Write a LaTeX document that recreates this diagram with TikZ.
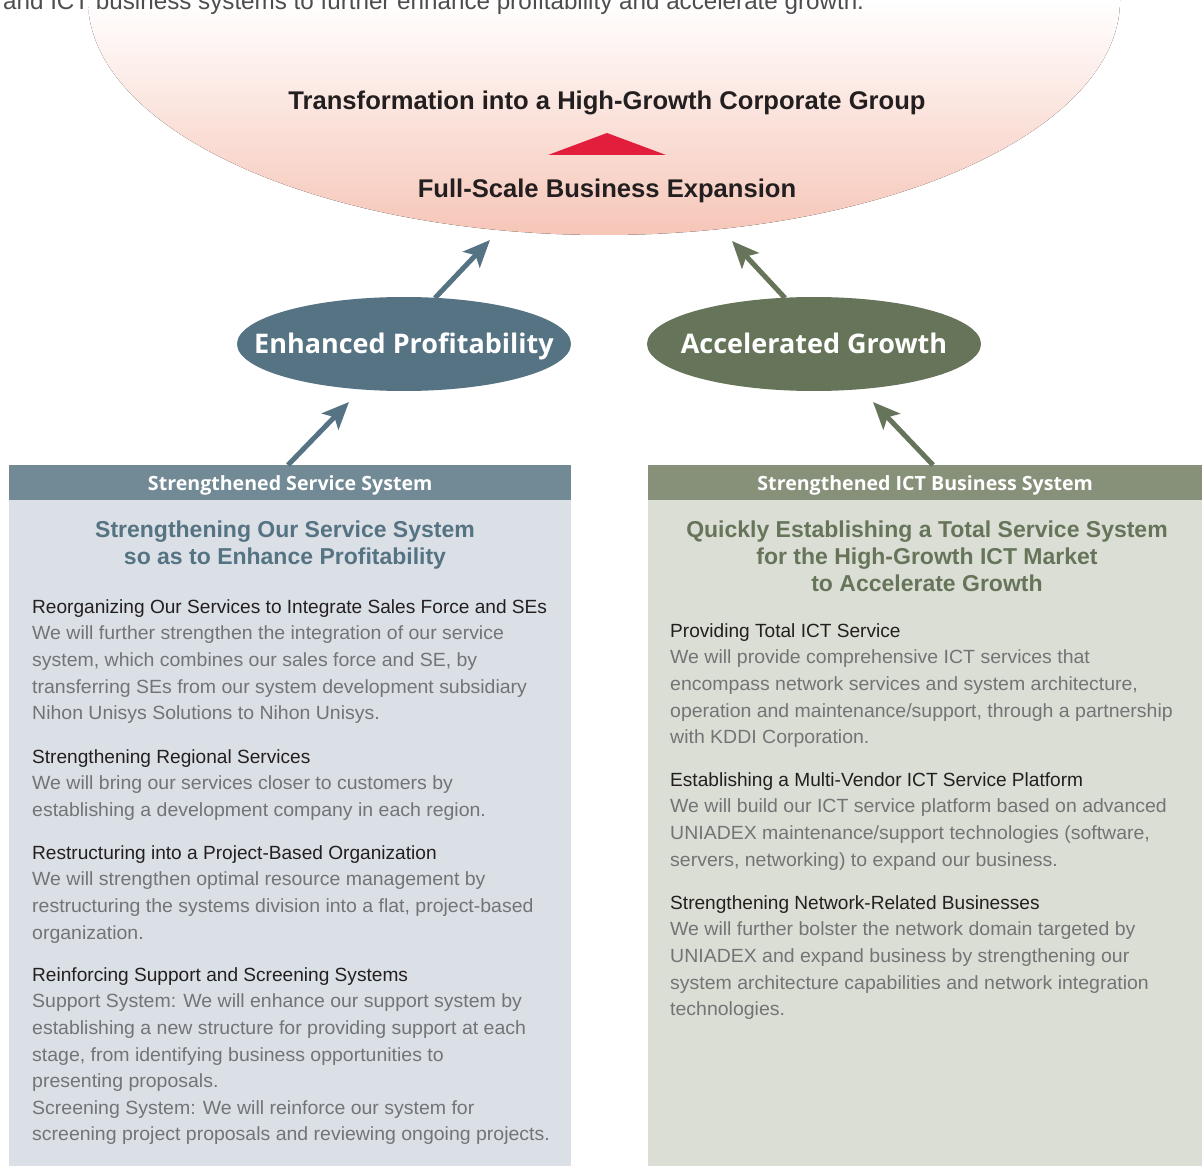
\documentclass[tikz,border=0pt]{standalone}
\usepackage{fontspec}
\setmainfont{Liberation Sans}
\newfontfamily\bodyfont[FakeStretch=1.02]{Liberation Sans}
\newfontfamily\humfont{Open Sans}
\usetikzlibrary{shapes.geometric,arrows.meta}

\definecolor{petrol}{HTML}{557383}
\definecolor{olive}{HTML}{66755A}
\definecolor{petrolhd}{HTML}{728A95}
\definecolor{olivehd}{HTML}{87917A}
\definecolor{petrolbg}{HTML}{DAE0E6}
\definecolor{olivebg}{HTML}{DBDED5}
\definecolor{ink}{HTML}{231F20}
\definecolor{bodygray}{HTML}{737476}
\definecolor{leadgray}{HTML}{4D4D4F}
\definecolor{blush}{HTML}{F6C6B8}
\definecolor{signal}{HTML}{E31D3C}

\newcommand\blockhead[1]{{\normalfont\fontsize{19.1}{26.6}\selectfont\textcolor{ink}{\rule{0pt}{15pt}#1}}}

\tikzset{
  goal/.style={font=\bfseries\fontsize{25.6}{30}\selectfont, text=ink, inner sep=0pt},
  result/.style={ellipse, minimum width=334pt, minimum height=94pt, inner xsep=-45pt, inner ysep=0pt,
    text height=19pt, text depth=0pt,
    text=white, font=\humfont\bfseries\fontsize{27}{32}\selectfont},
  bar/.style={rectangle, anchor=north west, minimum height=35pt, inner sep=0pt,
    text height=15pt, text depth=0pt,
    text=white, font=\humfont\bfseries\fontsize{19.6}{23}\selectfont},
  theme/.style={anchor=north, align=center, inner sep=0pt,
    font=\bfseries\fontsize{23}{27}\selectfont},
  blk/.style={anchor=north west, align=left, inner sep=0pt, text=bodygray,
    font=\bodyfont\fontsize{19.1}{26.6}\selectfont},
  flow/.style={line width=5pt, -{Stealth[length=27pt, width=23pt, inset=6pt]}},
}

\begin{document}
\begin{tikzpicture}[x=1pt, y=-1pt]
\useasboundingbox (0,0) rectangle (1202,1166);
\clip (0,0) rectangle (1202,1166);

% goal dome with soft pink gradient
\fill[top color=white, bottom color=blush]
  (88,0) arc[start angle=180, end angle=0, x radius=516, y radius=235] -- cycle;

% lead-in sentence running off the top edge
\node[anchor=base west, inner sep=0pt, text=leadgray, font=\fontsize{24.2}{28}\selectfont] (lead) at (3,10)
  {and ICT business systems to further enhance profitability and accelerate growth.};

% goal statements
\node[goal, anchor=base] (trans) at (607,110) {Transformation into a High-Growth Corporate Group};
\node[goal, anchor=base] (expand) at (607,198) {Full-Scale Business Expansion};
\fill[signal] (548,155) -- (607,133) -- (666,155) -- cycle;

% result ellipses
\node[result, fill=petrol] (ep) at (404,344) {Enhanced Profitability};
\node[result, fill=olive] (ag) at (814,344) {Accelerated Growth};

% column panels
\fill[petrolbg] (9,500) rectangle (571,1166);
\fill[olivebg] (648,500) rectangle (1202,1166);
\node[bar, fill=petrolhd, minimum width=562pt] (hl) at (9,465) {Strengthened Service System};
\node[bar, fill=olivehd, minimum width=554pt] (hr) at (648,465) {Strengthened ICT Business System};

% arrow end points
\coordinate (l1s) at (288,465);
\coordinate (l1e) at (349,402);
\coordinate (l2s) at (435,298);
\coordinate (l2e) at (490,240);
\coordinate (r1s) at (933,465);
\coordinate (r1e) at (873,402);
\coordinate (r2s) at (785,298);
\coordinate (r2e) at (732,241);

\draw[flow, petrol] (l1s) -- (l1e);
\draw[flow, petrol] (l2s) -- (l2e);
\draw[flow, olive] (r1s) -- (r1e);
\draw[flow, olive] (r2s) -- (r2e);

% column themes
\node[theme, text=petrol] (tl) at (285,519)
  {\rule{0pt}{18pt}Strengthening Our Service System\\so as to Enhance Profitability};
\node[theme, text=olive] (tr) at (927,519)
  {\rule{0pt}{18pt}Quickly Establishing a Total Service System\\for the High-Growth ICT Market\\to Accelerate Growth};

% left column measures
\node[blk] (lb1) at (32,598) {\blockhead{Reorganizing Our Services to Integrate Sales Force and SEs}\\
We will further strengthen the integration of our service\\
system, which combines our sales force and SE, by\\
transferring SEs from our system development subsidiary\\
Nihon Unisys Solutions to Nihon Unisys.};
\node[blk] (lb2) at (32,748) {\blockhead{Strengthening Regional Services}\\
We will bring our services closer to customers by\\
establishing a development company in each region.};
\node[blk] (lb3) at (32,844) {\blockhead{Restructuring into a Project-Based Organization}\\
We will strengthen optimal resource management by\\
restructuring the systems division into a flat, project-based\\
organization.};
\node[blk] (lb4) at (32,966) {\blockhead{Reinforcing Support and Screening Systems}\\
Support System: We will enhance our support system by\\
establishing a new structure for providing support at each\\
stage, from identifying business opportunities to\\
presenting proposals.\\
Screening System: We will reinforce our system for\\
screening project proposals and reviewing ongoing projects.};

% right column measures
\node[blk] (rb1) at (670,622) {\blockhead{Providing Total ICT Service}\\
We will provide comprehensive ICT services that\\
encompass network services and system architecture,\\
operation and maintenance/support, through a partnership\\
with KDDI Corporation.};
\node[blk] (rb2) at (670,771) {\blockhead{Establishing a Multi-Vendor ICT Service Platform}\\
We will build our ICT service platform based on advanced\\
UNIADEX maintenance/support technologies (software,\\
servers, networking) to expand our business.};
\node[blk] (rb3) at (670,894) {\blockhead{Strengthening Network-Related Businesses}\\
We will further bolster the network domain targeted by\\
UNIADEX and expand business by strengthening our\\
system architecture capabilities and network integration\\
technologies.};
\end{tikzpicture}
\end{document}
